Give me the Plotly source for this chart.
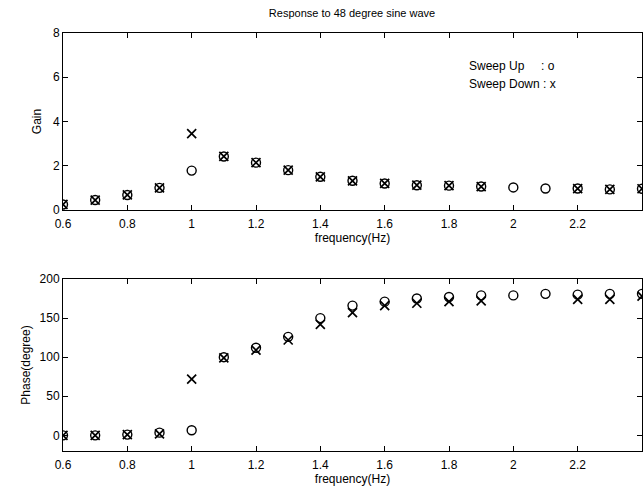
import plotly.graph_objects as go

freq = [0.6, 0.7, 0.8, 0.9, 1.0, 1.1, 1.2, 1.3, 1.4, 1.5, 1.6, 1.7, 1.8, 1.9, 2.0, 2.1, 2.2, 2.3, 2.4]
gain_up = [0.25, 0.45, 0.68, 1.0, 1.78, 2.42, 2.14, 1.80, 1.50, 1.32, 1.20, 1.12, 1.10, 1.06, 1.02, 0.97, 0.97, 0.93, 0.96]
gain_down = [0.25, 0.45, 0.68, 1.0, 3.45, 2.42, 2.14, 1.80, 1.50, 1.32, 1.20, 1.12, 1.10, 1.06, None, None, 0.97, 0.93, 0.96]
phase_up = [0, 0, 1, 3.5, 6.5, 100, 112, 126, 150, 166, 171, 175, 177, 179, 179, 181, 180, 181, 181]
phase_down = [0, 0, 1, 2, 72, 99, 109, 122, 142, 157, 166, 169, 171, 172, None, None, 174, 174, 178]

title_text = "Response to 48 degree sine wave"
legend_lines = ["Sweep Up&nbsp;&nbsp;&nbsp;&nbsp;&nbsp;: o", "Sweep Down : x"]

W, H = 643, 492
FONT = "Liberation Sans, Arial, sans-serif"

def px_x(p):
    return p / W

def px_y(p):
    return 1 - p / H

xdom = [px_x(63), px_x(642)]
top_dom = [px_y(210), px_y(33)]
bot_dom = [px_y(451), px_y(279)]

circle = dict(symbol="circle-open", size=9, color="black", line=dict(width=1.4, color="black"))
cross = dict(symbol="x-thin-open", size=9, color="black", line=dict(width=1.7, color="black"))

fig = go.Figure()
fig.add_trace(go.Scatter(x=freq, y=gain_up, mode="markers", marker=circle, xaxis="x", yaxis="y", showlegend=False))
fig.add_trace(go.Scatter(x=freq, y=gain_down, mode="markers", marker=cross, xaxis="x", yaxis="y", showlegend=False))
fig.add_trace(go.Scatter(x=freq, y=phase_up, mode="markers", marker=circle, xaxis="x2", yaxis="y2", showlegend=False))
fig.add_trace(go.Scatter(x=freq, y=phase_down, mode="markers", marker=cross, xaxis="x2", yaxis="y2", showlegend=False))

xticks = [0.6, 0.8, 1.0, 1.2, 1.4, 1.6, 1.8, 2.0, 2.2]
xtick_text = ["0.6", "0.8", "1", "1.2", "1.4", "1.6", "1.8", "2", "2.2"]

common_x = dict(range=[0.6, 2.4], tickvals=xticks, ticktext=xtick_text, ticks="inside", ticklen=5,
                tickcolor="black", showline=True, linecolor="black", linewidth=1, mirror="allticks",
                showgrid=False, zeroline=False, automargin=False, ticklabelstandoff=3,
                tickfont=dict(size=12, family=FONT, color="black"),
                title=dict(text="frequency(Hz)", font=dict(size=12, family=FONT, color="black"), standoff=3),
                domain=xdom)
common_y = dict(ticks="inside", ticklen=5, tickcolor="black", showline=True, linecolor="black", linewidth=1,
                mirror="allticks", showgrid=False, zeroline=False, automargin=False,
                tickfont=dict(size=12, family=FONT, color="black"))

fig.update_layout(
    width=W, height=H,
    margin=dict(l=0, r=0, t=0, b=0, autoexpand=False),
    paper_bgcolor="white", plot_bgcolor="white",
    font=dict(family=FONT, color="black", size=12),
    xaxis=dict(common_x, anchor="y"),
    yaxis=dict(common_y, range=[0, 8], tickvals=[0, 2, 4, 6, 8], domain=top_dom, anchor="x",
               title=dict(text="Gain", font=dict(size=12, family=FONT), standoff=8)),
    xaxis2=dict(common_x, anchor="y2"),
    yaxis2=dict(common_y, range=[-20, 200], tickvals=[0, 50, 100, 150, 200], domain=bot_dom, anchor="x2",
                title=dict(text="Phase(degree)", font=dict(size=12, family=FONT), standoff=6)),
    title=dict(text=title_text, x=352 / W, xanchor="center", y=1 - 13 / H, yanchor="middle",
               font=dict(size=11, family=FONT, color="black")),
)

for i, line in enumerate(legend_lines):
    fig.add_annotation(text=line, xref="paper", yref="paper",
                       x=px_x(467), y=px_y(66 + 18 * i), xanchor="left", yanchor="middle", align="left",
                       showarrow=False, font=dict(size=12, family=FONT, color="black"))

fig.write_html("out.html", config={"displayModeBar": False},
               post_script="document.body.style.margin='0px';document.body.style.overflow='hidden';")
